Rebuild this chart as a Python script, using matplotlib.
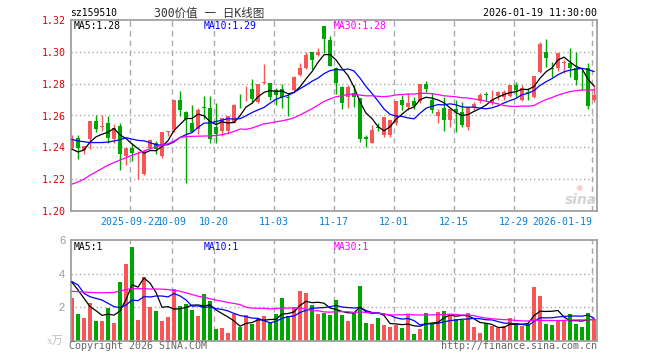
import numpy as np
import pandas as pd
import matplotlib
matplotlib.use('Agg')
import matplotlib.pyplot as plt

# Dados diarios (88 pregoes, 2025-09-08 a 2026-01-19)
abertura = [1.2394, 1.2456, 1.2383, 1.2450, 1.2563, 1.2530, 1.2550, 1.2450, 1.2533, 1.2346,
            1.2396, 1.2313, 1.2231, 1.2398, 1.2425, 1.2346, 1.2496, 1.2515, 1.2696, 1.2625,
            1.2552, 1.2515, 1.2652, 1.2650, 1.2529, 1.2504, 1.2504, 1.2550, 1.2667, 1.2752,
            1.2765, 1.2685, 1.2804, 1.2802, 1.2758, 1.2765, 1.2713, 1.2760, 1.2852, 1.2900,
            1.2998, 1.2977, 1.3160, 1.3077, 1.2900, 1.2777, 1.2718, 1.2740, 1.2712, 1.2462,
            1.2425, 1.2528, 1.2478, 1.2478, 1.2555, 1.2697, 1.2651, 1.2690, 1.2690, 1.2800,
            1.2700, 1.2597, 1.2645, 1.2572, 1.2639, 1.2624, 1.2526, 1.2653, 1.2690, 1.2733,
            1.2676, 1.2724, 1.2718, 1.2723, 1.2792, 1.2697, 1.2745, 1.2718, 1.2875, 1.2997,
            1.2899, 1.2897, 1.2932, 1.2928, 1.2897, 1.2825, 1.2897, 1.2697]
maxima = [1.2475, 1.2480, 1.2406, 1.2563, 1.2600, 1.2600, 1.2596, 1.2544, 1.2550, 1.2396,
          1.2430, 1.2377, 1.2377, 1.2454, 1.2440, 1.2496, 1.2500, 1.2698, 1.2754, 1.2629,
          1.2665, 1.2650, 1.2723, 1.2723, 1.2681, 1.2583, 1.2598, 1.2671, 1.2733, 1.2785,
          1.2831, 1.2800, 1.2921, 1.2806, 1.2775, 1.2796, 1.2733, 1.2848, 1.2931, 1.2998,
          1.3000, 1.3025, 1.3160, 1.3098, 1.2904, 1.2785, 1.2790, 1.2790, 1.2712, 1.2475,
          1.2540, 1.2555, 1.2588, 1.2572, 1.2690, 1.2728, 1.2740, 1.2718, 1.2800, 1.2815,
          1.2740, 1.2639, 1.2717, 1.2655, 1.2697, 1.2686, 1.2655, 1.2686, 1.2740, 1.2750,
          1.2760, 1.2755, 1.2760, 1.2792, 1.2812, 1.2790, 1.2771, 1.2848, 1.3064, 1.3079,
          1.2938, 1.2991, 1.2949, 1.3022, 1.3001, 1.2886, 1.2928, 1.2792]
minima = [1.2388, 1.2325, 1.2356, 1.2390, 1.2498, 1.2500, 1.2425, 1.2425, 1.2258, 1.2290,
          1.2315, 1.2200, 1.2225, 1.2390, 1.2356, 1.2330, 1.2469, 1.2494, 1.2598, 1.2175,
          1.2494, 1.2483, 1.2577, 1.2425, 1.2427, 1.2473, 1.2483, 1.2550, 1.2650, 1.2692,
          1.2681, 1.2681, 1.2796, 1.2696, 1.2665, 1.2650, 1.2594, 1.2754, 1.2848, 1.2890,
          1.2890, 1.2973, 1.2994, 1.2910, 1.2733, 1.2640, 1.2650, 1.2655, 1.2435, 1.2400,
          1.2425, 1.2505, 1.2465, 1.2465, 1.2540, 1.2636, 1.2636, 1.2639, 1.2680, 1.2750,
          1.2618, 1.2555, 1.2504, 1.2530, 1.2495, 1.2526, 1.2510, 1.2636, 1.2680, 1.2690,
          1.2666, 1.2700, 1.2700, 1.2715, 1.2718, 1.2690, 1.2697, 1.2710, 1.2870, 1.2907,
          1.2844, 1.2880, 1.2865, 1.2844, 1.2792, 1.2760, 1.2639, 1.2687]
fechamento = [1.2454, 1.2394, 1.2406, 1.2563, 1.2513, 1.2535, 1.2460, 1.2523, 1.2360, 1.2396,
              1.2367, 1.2315, 1.2377, 1.2444, 1.2392, 1.2496, 1.2500, 1.2698, 1.2633, 1.2577,
              1.2498, 1.2635, 1.2648, 1.2452, 1.2483, 1.2583, 1.2598, 1.2665, 1.2663, 1.2756,
              1.2702, 1.2800, 1.2806, 1.2719, 1.2729, 1.2719, 1.2710, 1.2844, 1.2900, 1.2977,
              1.2948, 1.3000, 1.3083, 1.2910, 1.2806, 1.2680, 1.2777, 1.2718, 1.2450, 1.2450,
              1.2509, 1.2524, 1.2588, 1.2572, 1.2690, 1.2666, 1.2680, 1.2660, 1.2800, 1.2768,
              1.2636, 1.2624, 1.2572, 1.2639, 1.2624, 1.2540, 1.2655, 1.2670, 1.2731, 1.2730,
              1.2697, 1.2750, 1.2750, 1.2792, 1.2760, 1.2771, 1.2741, 1.2848, 1.3049, 1.2963,
              1.2895, 1.2991, 1.2936, 1.2897, 1.2823, 1.2821, 1.2660, 1.2729]
# volume em 万
volume = [2.56, 1.59, 1.35, 2.26, 1.17, 1.17, 1.95, 1.07, 3.50, 4.57,
          5.58, 1.23, 3.79, 2.00, 1.77, 1.17, 1.41, 3.08, 2.07, 2.20,
          1.83, 1.47, 2.78, 2.38, 0.70, 0.75, 0.46, 1.59, 0.83, 1.53,
          0.99, 1.29, 1.47, 1.03, 1.59, 2.54, 1.47, 1.93, 2.96, 2.84,
          2.13, 1.59, 1.65, 1.53, 2.42, 1.53, 1.17, 1.65, 3.26, 1.03,
          0.99, 1.35, 0.93, 0.81, 0.93, 0.75, 1.53, 0.40, 0.70, 1.65,
          0.99, 1.71, 1.77, 1.53, 1.29, 1.23, 1.65, 0.81, 0.46, 1.05,
          0.87, 0.75, 0.87, 1.35, 1.05, 0.87, 0.99, 3.20, 2.66, 0.99,
          0.93, 1.23, 1.23, 1.59, 0.99, 0.81, 1.65, 1.29]

# inicio das medias (dependem de pregoes anteriores ao grafico)
ma5_inicio = [1.2388, 1.2371, 1.2383, 1.2433]
ma10_inicio = [1.2450, 1.2440, 1.2435, 1.2430, 1.2430, 1.2430, 1.2433, 1.2440, 1.2448]
ma30_inicio = [1.2169, 1.2183, 1.2200, 1.2225, 1.2246, 1.2267, 1.2288, 1.2304, 1.2321, 1.2335,
               1.2350, 1.2363, 1.2377, 1.2392, 1.2402, 1.2413, 1.2423, 1.2440, 1.2462, 1.2467,
               1.2469, 1.2470, 1.2471, 1.2472, 1.2474, 1.2480, 1.2488, 1.2500, 1.2515]
vma5_inicio = [3.48, 3.02, 2.52, 2.03]
vma10_inicio = [3.52, 3.32, 2.82, 2.62, 2.52, 2.42, 2.23, 2.03, 1.97]
vma30_inicio = [2.94, 2.92, 2.90, 2.88, 2.86, 2.86, 2.86, 2.88, 2.95, 3.05,
                3.10, 3.10, 3.10, 3.08, 3.08, 3.07, 3.05, 3.00, 2.95, 2.85,
                2.75, 2.65, 2.58, 2.50, 2.42, 2.35, 2.28, 2.22, 2.15]

datas_idx = [10, 17, 24, 34, 44, 54, 64, 74, 87]
datas_txt = ['2025-09-22', '10-09', '10-20', '11-03', '11-17', '12-01', '12-15', '12-29', '2026-01-19']

VERMELHO = '#f65656'
VERDE = '#00a600'
CINZA = '#a0a0a0'
MONO = ['DejaVu Sans Mono', 'Noto Sans CJK SC']


def media_movel(valores, n, inicio):
    s = pd.Series(valores).rolling(n).mean()
    s.iloc[:len(inicio)] = inicio
    return s.values


x = np.arange(len(fechamento))
o = np.array(abertura)
c = np.array(fechamento)
alta = c >= o
cores = np.where(alta, VERMELHO, VERDE)

ma5 = media_movel(fechamento, 5, ma5_inicio)
ma10 = media_movel(fechamento, 10, ma10_inicio)
ma30 = media_movel(fechamento, 30, ma30_inicio)
vma5 = media_movel(volume, 5, vma5_inicio)
vma10 = media_movel(volume, 10, vma10_inicio)
vma30 = media_movel(volume, 30, vma30_inicio)

W, H = 660, 360
fig = plt.figure(figsize=(W / 100, H / 100), dpi=100)
fig.patch.set_facecolor('white')


def px(xp, yp):
    return xp / W, 1 - yp / H


ax = fig.add_axes([70.7 / W, 1 - 211 / H, 526.3 / W, 191 / H])
axv = fig.add_axes([70.7 / W, 1 - 340.7 / H, 526.3 / W, 100.7 / H])

xlim = (-0.22, 87.5)
grade_x = [i - 0.3 for i in datas_idx]

for a in (ax, axv):
    a.set_xlim(*xlim)
    for s in a.spines.values():
        s.set_color(CINZA)
        s.set_linewidth(1.3)
    for gx in grade_x:
        a.axvline(gx, color='#aaaaaa', lw=1, ls=(0, (4, 3)), zorder=0)

# candles
ax.vlines(x, minima, maxima, colors=cores, lw=1, zorder=2)
corpo = np.maximum(np.abs(c - o), 0.0004)
ax.bar(x, corpo, bottom=np.minimum(o, c), width=0.78, color=cores, lw=0, zorder=3)
ax.plot(x, ma5, color='black', lw=0.9, zorder=4)
ax.plot(x, ma10, color='#0000ff', lw=0.9, zorder=4)
ax.plot(x, ma30, color='#ff00ff', lw=0.9, zorder=4)

ax.set_ylim(1.20, 1.32)
for gy in [1.22, 1.24, 1.26, 1.28, 1.30]:
    ax.axhline(gy, color='#aaaaaa', lw=1, ls=(0, (1, 2)), zorder=0)
ax.set_yticks([1.20, 1.22, 1.24, 1.26, 1.28, 1.30, 1.32])
ax.set_yticklabels(['%.2f' % v for v in [1.20, 1.22, 1.24, 1.26, 1.28, 1.30, 1.32]],
                   color='#e00000', family=MONO, fontsize=7.2)
ax.set_xticks(grade_x)
ax.set_xticklabels(datas_txt, color='#0a7fd0', family=MONO, fontsize=7.1)
ax.get_xticklabels()[-1].set_ha('right')
ax.tick_params(length=0, pad=3.5)
ax.tick_params(axis='x', pad=4)

# volume
axv.bar(x, volume, width=0.78, color=cores, lw=0, zorder=2)
axv.plot(x, vma5, color='black', lw=0.9, zorder=4)
axv.plot(x, vma10, color='#0000ff', lw=0.9, zorder=4)
axv.plot(x, vma30, color='#ff00ff', lw=0.9, zorder=4)
axv.set_ylim(0, 6)
for gy in [2, 4]:
    axv.axhline(gy, color='#aaaaaa', lw=1, ls=(0, (1, 2)), zorder=0)
axv.set_yticks([2, 4, 6])
axv.set_yticklabels(['2', '4', '6'], color='#999999', family='Liberation Sans', fontsize=8)
axv.set_xticks([])
axv.tick_params(length=0, pad=4)

# textos
fig.text(*px(70, 13), 'sz159510', family=MONO, fontsize=7, va='center', ha='left')
fig.text(*px(209, 13), '300价值 一 日K线图', family=MONO, fontsize=8.3, va='center', ha='center',
         color='#333333')
fig.text(*px(597, 13), '2026-01-19 11:30:00', family=MONO, fontsize=7.2, va='center', ha='right')

fig.text(*px(74, 26), 'MA5:%.2f' % ma5[-1], family=MONO, fontsize=7, va='center', color='black')
fig.text(*px(204, 26), 'MA10:%.2f' % ma10[-1], family=MONO, fontsize=7, va='center', color='#0000ff')
fig.text(*px(334, 26), 'MA30:%.2f' % ma30[-1], family=MONO, fontsize=7, va='center', color='#ff00ff')
fig.text(*px(74, 247), 'MA5:%d' % round(vma5[-1]), family=MONO, fontsize=7, va='center', color='black')
fig.text(*px(204, 247), 'MA10:%d' % round(vma10[-1]), family=MONO, fontsize=7, va='center', color='#0000ff')
fig.text(*px(334, 247), 'MA30:%d' % round(vma30[-1]), family=MONO, fontsize=7, va='center', color='#ff00ff')

fig.text(*px(64, 341), 'x万', family=['Liberation Serif', 'Noto Sans CJK SC'], fontsize=8,
         va='center', ha='right', color='#c0c0c0')
fig.text(*px(69, 346), 'Copyright 2026 SINA.COM', family=MONO, fontsize=7.2, va='center', color='#666666')
fig.text(*px(597, 346), 'http://finance.sina.com.cn', family=MONO, fontsize=7.2, va='center', ha='right',
         color='#666666')

# marca d'agua sina
fig.text(*px(581, 200), 'sina', fontsize=10, fontweight='bold', style='italic', ha='center', va='center',
         color='#d4d4d4')
fig.text(*px(579, 187), '◉', fontsize=6, ha='center', va='center', color='#f2c4c4')

fig.savefig('out.png', dpi=100, facecolor='white')
